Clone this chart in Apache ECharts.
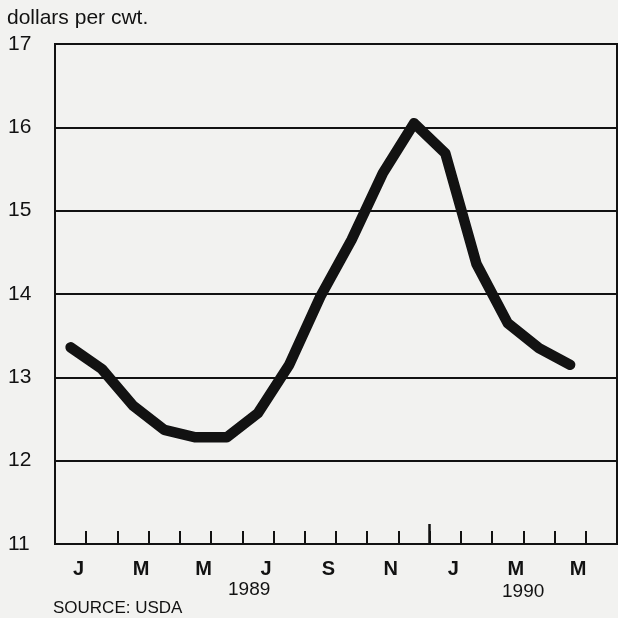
<!DOCTYPE html>
<html>
<head>
<meta charset="utf-8">
<script src="https://cdn.jsdelivr.net/npm/echarts@6/dist/echarts.min.js"></script>
<style>
  html, body { margin: 0; padding: 0; background: #f2f2f0; }
  #chart { width: 618px; height: 618px; }
</style>
</head>
<body>
<div id="chart"></div>
<script>
// months Jan 1989 .. Jun 1990 (last slot is empty space on the right)
var months = ["J", "F", "M", "A", "M", "J", "J", "A", "S", "O", "N", "D",
              "J", "F", "M", "A", "M", "J"];
// price, dollars per cwt, Jan 1989 .. May 1990
var prices = [13.36, 13.1, 12.66, 12.37, 12.28, 12.28, 12.57, 13.15, 13.97,
              14.65, 15.45, 16.05, 15.69, 14.36, 13.65, 13.35, 13.15];
var yearLabels = ["1989", "1990"];
var yTicks = { min: 11, max: 17, step: 1 };

var font = "Liberation Sans, Arial, Helvetica, sans-serif";
var ink = "#121212";

var myChart = echarts.init(document.getElementById("chart"));

var option = {
  backgroundColor: "#f2f2f0",
  animation: false,
  title: {
    text: "dollars per cwt.",
    left: 7,
    top: 8,
    padding: 0,
    textStyle: { fontFamily: font, fontSize: 21, fontWeight: "normal", color: ink },
  },
  grid: {
    left: 55,
    right: 1,
    top: 44,
    bottom: 74,
    show: true,
    borderColor: ink,
    borderWidth: 2,
    backgroundColor: "transparent",
    outerBoundsMode: "none",
  },
  xAxis: [
    {
      type: "category",
      data: months,
      boundaryGap: true,
      axisLine: { show: true, lineStyle: { color: ink, width: 2 } },
      axisTick: {
        show: true,
        inside: true,
        interval: 0,
        length: 13,
        lineStyle: { color: ink, width: 2 },
      },
      axisLabel: {
        interval: 1,
        margin: 15,
        padding: [0, 0, 0, 16],
        fontFamily: font,
        fontSize: 20,
        fontWeight: "bold",
        color: ink,
      },
      splitLine: { show: false },
    },
    {
      // long tick marking the change of year
      type: "value",
      position: "bottom",
      min: 0,
      max: months.length,
      axisLine: { show: false },
      axisLabel: { show: false },
      splitLine: { show: false },
      axisTick: {
        show: true,
        inside: true,
        length: 20,
        customValues: [12],
        lineStyle: { color: ink, width: 2.5 },
      },
    },
  ],
  yAxis: {
    type: "value",
    min: yTicks.min,
    max: yTicks.max,
    interval: yTicks.step,
    axisLine: { show: true, lineStyle: { color: ink, width: 2 } },
    axisTick: { show: false },
    axisLabel: {
      align: "left",
      margin: 47,
      fontFamily: font,
      fontSize: 21,
      color: ink,
    },
    splitLine: { show: true, lineStyle: { color: ink, width: 2 } },
  },
  graphic: [
    {
      type: "text",
      left: 228,
      top: 580,
      style: { text: yearLabels[0], font: "19px " + font, fill: ink },
    },
    {
      type: "text",
      left: 502,
      top: 582,
      style: { text: yearLabels[1], font: "19px " + font, fill: ink },
    },
    {
      type: "text",
      left: 53,
      top: 600,
      style: { text: "SOURCE: USDA", font: "17px " + font, fill: ink },
    },
  ],
  series: [
    {
      type: "line",
      xAxisIndex: 0,
      data: prices,
      symbol: "none",
      smooth: false,
      lineStyle: { color: ink, width: 10.5, cap: "round", join: "round" },
    },
  ],
};
myChart.setOption(option);
</script>
</body>
</html>
